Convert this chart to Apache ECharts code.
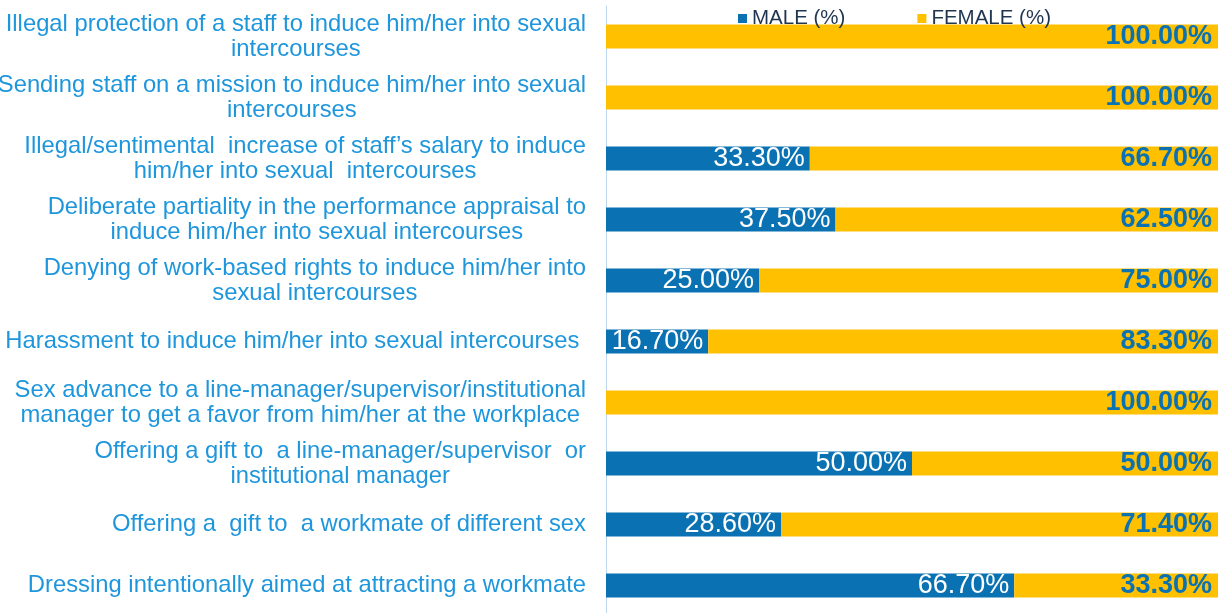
<!DOCTYPE html>
<html>
<head>
<meta charset="utf-8">
<script src="https://cdn.jsdelivr.net/npm/echarts@6/dist/echarts.min.js"></script>
<style>
  html, body { margin: 0; padding: 0; background: #fff; }
  #chart { width: 1225px; height: 613px; }
</style>
</head>
<body>
<div id="chart"></div>
<script>
// categories, top to bottom
const categories = [
    'Illegal protection of a staff to induce him/her into sexual\nintercourses',
    'Sending staff on a mission to induce him/her into sexual\nintercourses',
    'Illegal/sentimental  increase of staff\u2019s salary to induce\nhim/her into sexual  intercourses',
    'Deliberate partiality in the performance appraisal to\ninduce him/her into sexual intercourses',
    'Denying of work-based rights to induce him/her into\nsexual intercourses',
    'Harassment to induce him/her into sexual intercourses ',
    'Sex advance to a line-manager/supervisor/institutional\nmanager to get a favor from him/her at the workplace',
    'Offering a gift to  a line-manager/supervisor  or\ninstitutional manager',
    'Offering a  gift to  a workmate of different sex',
    'Dressing intentionally aimed at attracting a workmate'
];
const male = [0, 0, 33.3, 37.5, 25.0, 16.7, 0, 50.0, 28.6, 66.7];
const female = [100, 100, 66.7, 62.5, 75.0, 83.3, 100, 50.0, 71.4, 33.3];

const FONT = '"Liberation Sans", Arial, sans-serif';

const myChart = echarts.init(document.getElementById('chart'));

// 0 值不显示标签
const pctLabel = function (p) {
    return p.value ? p.value.toFixed(2) + '%' : '';
};

const option = {
    animation: false,
    textStyle: { fontFamily: FONT },
    legend: {
        left: 733,
        top: 3,
        itemWidth: 9,
        itemHeight: 9,
        itemGap: 72,
        icon: 'rect',
        textStyle: { fontSize: 20.5, color: '#1F3550', fontFamily: FONT },
        data: ['MALE (%)', 'FEMALE (%)']
    },
    grid: {
        left: 606,
        right: 7,
        top: 6,
        height: 610,
        outerBoundsMode: 'none'
    },
    xAxis: {
        type: 'value',
        min: 0,
        max: 100,
        show: false
    },
    yAxis: {
        type: 'category',
        inverse: true,
        data: categories,
        axisLine: { show: true, lineStyle: { color: '#BDD7EE', width: 1 } },
        axisTick: { show: false },
        axisLabel: {
            margin: 20,
            align: 'right',
            formatter: function (v) {
                return v.split('\n').map(function (s) { return '{c|' + s + '}'; }).join('\n');
            },
            rich: {
                c: {
                    align: 'center',
                    fontSize: 23.8,
                    lineHeight: 25,
                    color: '#1E96DC',
                    fontFamily: FONT
                }
            }
        }
    },
    series: [
        {
            name: 'MALE (%)',
            type: 'bar',
            stack: 'total',
            barWidth: 24,
            data: male,
            itemStyle: { color: '#0A72B2' },
            label: {
                show: true,
                position: 'insideRight',
                distance: 5,
                formatter: pctLabel,
                color: '#ffffff',
                fontSize: 27,
                fontFamily: FONT
            }
        },
        {
            name: 'FEMALE (%)',
            type: 'bar',
            stack: 'total',
            barWidth: 24,
            data: female,
            itemStyle: { color: '#FFC000' },
            label: {
                show: true,
                position: 'insideRight',
                distance: 6,
                formatter: pctLabel,
                color: '#0A72B2',
                fontWeight: 'bold',
                fontSize: 27,
                fontFamily: FONT
            }
        }
    ]
};

myChart.setOption(option);
</script>
</body>
</html>
